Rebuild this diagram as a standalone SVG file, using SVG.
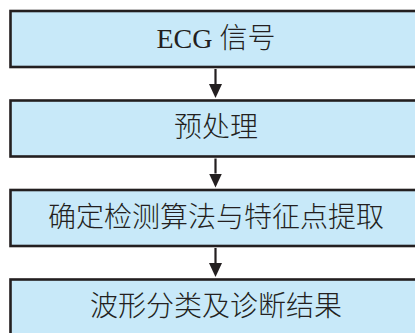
<svg xmlns="http://www.w3.org/2000/svg" width="415" height="333" viewBox="0 0 415 333">
<style>
.box{fill:#c8e9f9;stroke:#231f20;stroke-width:2.6}
.lbl{font-family:"Liberation Serif","Noto Sans CJK SC",serif;font-size:28px;fill:#231f20;text-anchor:middle;font-weight:300}
.arr{stroke:#231f20;stroke-width:2.2;fill:none}
</style>
<defs>
<marker id="ah" viewBox="0 0 14 13" refX="0" refY="6.5" markerWidth="14" markerHeight="13" markerUnits="userSpaceOnUse" orient="auto">
<path d="M0,0 L14,6.5 L0,13 z" fill="#231f20"/>
</marker>
</defs>
<rect width="415" height="333" fill="#ffffff"/>
<g id="n1"><rect class="box" x="10.5" y="11" width="430" height="56"/><text class="lbl" x="216" y="47.5">ECG 信号</text></g>
<g id="n2"><rect class="box" x="10.5" y="100.5" width="430" height="56"/><text class="lbl" x="216" y="137">预处理</text></g>
<g id="n3"><rect class="box" x="10.5" y="190" width="430" height="56"/><text class="lbl" x="216" y="226.5">确定检测算法与特征点提取</text></g>
<g id="n4"><rect class="box" x="10.5" y="279.5" width="430" height="60"/><text class="lbl" x="216" y="316">波形分类及诊断结果</text></g>
<g id="connectors">
<line class="arr" x1="215.5" y1="69" x2="215.5" y2="84" marker-end="url(#ah)"/>
<line class="arr" x1="215.5" y1="158.5" x2="215.5" y2="173.5" marker-end="url(#ah)"/>
<line class="arr" x1="215.5" y1="248" x2="215.5" y2="263" marker-end="url(#ah)"/>
</g>
</svg>
